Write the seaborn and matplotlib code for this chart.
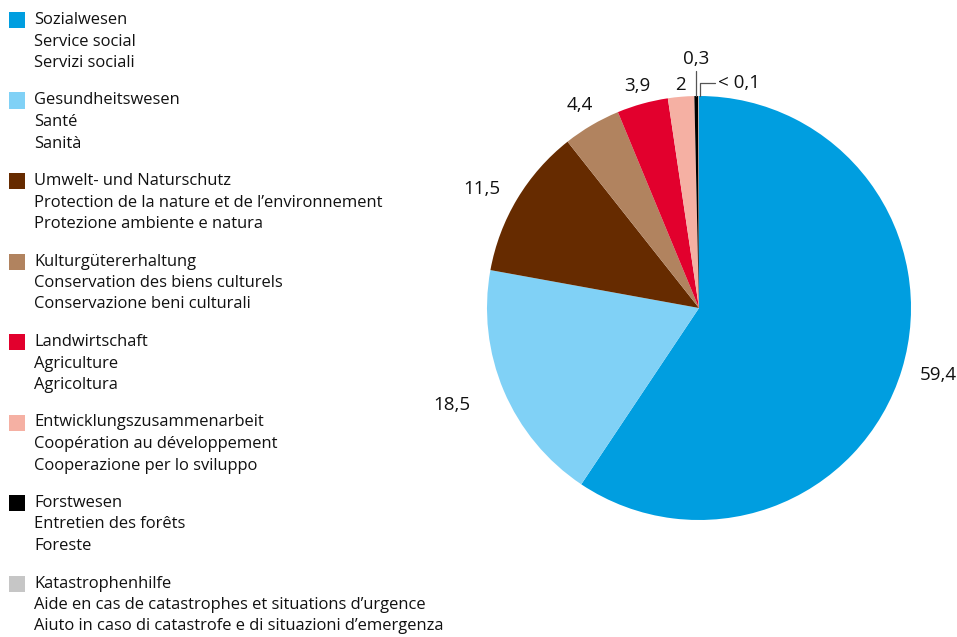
import numpy as np
import matplotlib.pyplot as plt
import seaborn as sns
from matplotlib.patches import Rectangle

# data
categories_de = ["Sozialwesen", "Gesundheitswesen", "Umwelt- und Naturschutz",
                 "Kulturgütererhaltung", "Landwirtschaft",
                 "Entwicklungszusammenarbeit", "Forstwesen", "Katastrophenhilfe"]
categories_fr = ["Service social", "Santé",
                 "Protection de la nature et de l\u2019environnement",
                 "Conservation des biens culturels", "Agriculture",
                 "Coopération au développement", "Entretien des forêts",
                 "Aide en cas de catastrophes et situations d\u2019urgence"]
categories_it = ["Servizi sociali", "Sanità", "Protezione ambiente e natura",
                 "Conservazione beni culturali", "Agricoltura",
                 "Cooperazione per lo sviluppo", "Foreste",
                 "Aiuto in caso di catastrofe e di situazioni d\u2019emergenza"]
shares = [59.4, 18.5, 11.5, 4.4, 3.9, 2.0, 0.3, 0.05]
value_labels = ["59,4", "18,5", "11,5", "4,4", "3,9", "2", "0,3", "< 0,1"]
colors = ["#009ee0", "#80d1f6", "#662b00", "#b1835f", "#e2002d",
          "#f5b0a3", "#000000", "#c6c6c6"]

sns.set_theme(style="white")
plt.rcParams["font.family"] = ["Open Sans", "DejaVu Sans"]
text_color = "#111111"

W, H = 957, 637
fig = plt.figure(figsize=(W / 100, H / 100), dpi=100)

# pie axes: centre (699, 308) px, radius 212 px
cx, cy, r = 699, 308, 212
ax = fig.add_axes([(cx - r) / W, (H - cy - r) / H, 2 * r / W, 2 * r / H])
wedges, _ = ax.pie(shares, colors=sns.color_palette(colors), startangle=90,
                   counterclock=False, radius=1,
                   wedgeprops=dict(linewidth=0))
ax.set_xlim(-1, 1)
ax.set_ylim(-1, 1)
ax.set_aspect("equal")
ax.axis("off")

# value labels: (distance from centre, horizontal alignment)
label_pos = [(1.09, "left"), (1.17, "right"), (1.09, "right"),
             (1.11, "center"), (1.085, "center"), (1.055, "center")]
for i, (w, lab) in enumerate(zip(wedges, value_labels)):
    mid = np.deg2rad((w.theta1 + w.theta2) / 2)
    if i < 6:
        d, ha = label_pos[i]
        x, y = d * np.cos(mid), d * np.sin(mid)
        ax.text(x, y, lab, ha=ha, va="center", fontsize=13.5, color=text_color)
    elif i == 6:
        x = np.cos(mid)
        ax.plot([x, x], [1.0, 1.12], color="#555555", lw=0.9, clip_on=False)
        ax.text(x, 1.175, lab, ha="center", va="center", fontsize=13.5,
                color=text_color)
    else:
        x = np.cos(mid) + 0.005
        ax.plot([x, x, x + 0.07], [1.0, 1.06, 1.06], color="#555555",
                lw=0.9, clip_on=False)
        ax.text(x + 0.085, 1.06, lab, ha="left", va="center", fontsize=13.5,
                color=text_color)

# legend (three languages per entry)
top0, step, line_h = 12, 80.5, 21.5
for i, c in enumerate(colors):
    top = top0 + i * step
    fig.patches.append(Rectangle((9 / W, 1 - (top + 16) / H), 16 / W, 16 / H,
                                 transform=fig.transFigure, facecolor=c,
                                 edgecolor="none"))
    for j, t in enumerate([categories_de[i], categories_fr[i], categories_it[i]]):
        fig.text(34 / W, 1 - (top + j * line_h) / H, t, ha="left", va="top",
                 fontsize=11.9, color=text_color)

fig.savefig("out.png", dpi=100)
